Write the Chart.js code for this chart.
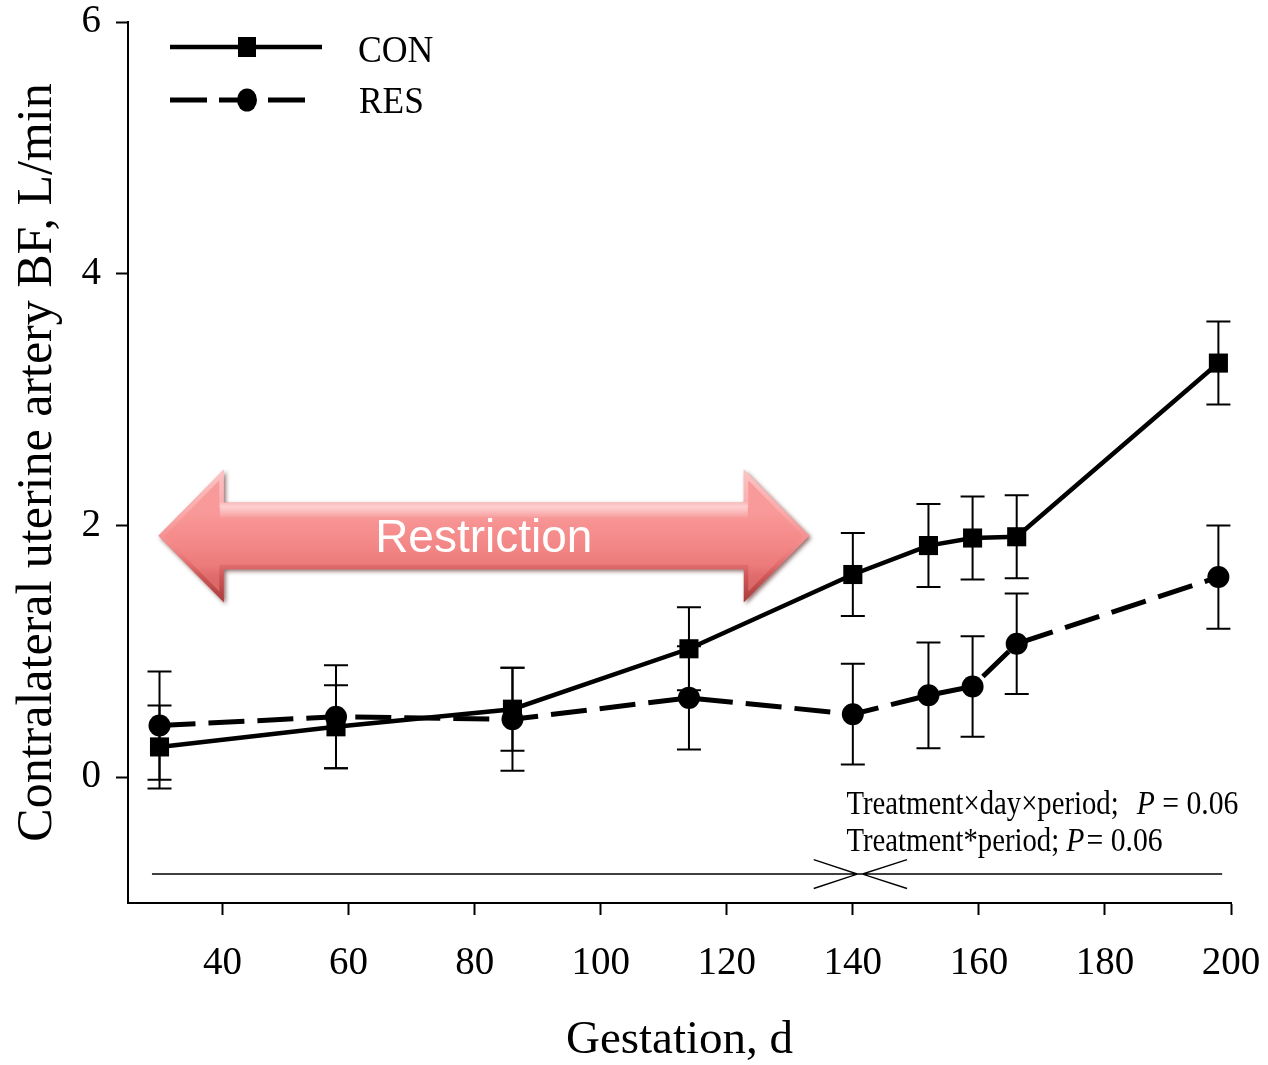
<!DOCTYPE html>
<html>
<head>
<meta charset="utf-8">
<title>Contralateral uterine artery blood flow</title>
<script src="https://cdn.jsdelivr.net/npm/chart.js@4.4.1/dist/chart.umd.min.js"></script>
<style>
  html, body { margin: 0; padding: 0; background: #fff; }
  #wrap { width: 1268px; height: 1065px; position: relative; }
</style>
</head>
<body>
<div id="wrap"><canvas id="bfChart"></canvas></div>
<script>
// gestation days sampled and blood flow (L/min) +/- SE per group
const days = [30, 58, 86, 114, 140, 152, 159, 166, 198];
const conBF = [0.24, 0.40, 0.54, 1.02, 1.61, 1.84, 1.90, 1.91, 3.29];
const conSE = [0.33, 0.33, 0.33, 0.33, 0.33, 0.33, 0.33, 0.33, 0.33];
const resBF = [0.41, 0.48, 0.46, 0.63, 0.50, 0.65, 0.72, 1.06, 1.59];
const resSE = [0.43, 0.41, 0.41, 0.41, 0.40, 0.42, 0.40, 0.40, 0.41];
const xTicks = [40, 60, 80, 100, 120, 140, 160, 180, 200];
const yTicks = [0, 2, 4, 6];

// restriction period arrow, in axis units
const restriction = { from: 29.8, to: 133.1, headLen: 10.4, y: 1.917, shaftHalf: 0.266, headHalf: 0.528 };
// period split marker along the bottom
const periodLine = { from: 28.8, to: 198.6, y: -0.77, split: 141.2, wing: 7.4, wingY: 0.115 };

const serif = "'Liberation Serif', 'Times New Roman', Times, serif";
const sans = "'Liberation Sans', Arial, Helvetica, sans-serif";

function toPoints(xs, ys) {
  return xs.map((d, i) => ({ x: d, y: ys[i] }));
}

function drawText(ctx, str, x, y, font, sx) {
  ctx.save();
  ctx.font = font;
  ctx.translate(x, y);
  ctx.scale(sx, 1);
  ctx.fillText(str, 0, 0);
  const w = ctx.measureText(str).width * sx;
  ctx.restore();
  return w;
}

const errorBars = {
  id: 'errorBars',
  beforeDatasetsDraw(chart) {
    const { ctx, scales: { x, y } } = chart;
    ctx.save();
    ctx.strokeStyle = '#000';
    ctx.lineWidth = 2;
    chart.data.datasets.forEach(ds => {
      ds.data.forEach((p, i) => {
        const px = x.getPixelForValue(p.x);
        const top = y.getPixelForValue(p.y + ds.errors[i]);
        const bot = y.getPixelForValue(p.y - ds.errors[i]);
        ctx.beginPath();
        ctx.moveTo(px, top); ctx.lineTo(px, bot);
        ctx.moveTo(px - 12, top); ctx.lineTo(px + 12, top);
        ctx.moveTo(px - 12, bot); ctx.lineTo(px + 12, bot);
        ctx.stroke();
      });
    });
    ctx.restore();
  }
};

const restrictionArrow = {
  id: 'restrictionArrow',
  afterDatasetsDraw(chart) {
    const { ctx, scales: { x, y } } = chart;
    const r = restriction;
    const xL = x.getPixelForValue(r.from), xR = x.getPixelForValue(r.to);
    const xLB = x.getPixelForValue(r.from + r.headLen), xRB = x.getPixelForValue(r.to - r.headLen);
    const yC = y.getPixelForValue(r.y);
    const yST = y.getPixelForValue(r.y + r.shaftHalf), ySB = y.getPixelForValue(r.y - r.shaftHalf);
    const yHT = y.getPixelForValue(r.y + r.headHalf), yHB = y.getPixelForValue(r.y - r.headHalf);

    const path = () => {
      ctx.beginPath();
      ctx.moveTo(xL, yC);
      ctx.lineTo(xLB, yHT); ctx.lineTo(xLB, yST);
      ctx.lineTo(xRB, yST); ctx.lineTo(xRB, yHT);
      ctx.lineTo(xR, yC);
      ctx.lineTo(xRB, yHB); ctx.lineTo(xRB, ySB);
      ctx.lineTo(xLB, ySB); ctx.lineTo(xLB, yHB);
      ctx.closePath();
    };

    ctx.save();
    const g = ctx.createLinearGradient(0, yHT, 0, yHB);
    g.addColorStop(0, '#f59a9a');
    g.addColorStop(0.3, '#f99a9a');
    g.addColorStop(0.55, '#f48888');
    g.addColorStop(0.72, '#ec7b7b');
    g.addColorStop(0.8, '#e06c6c');
    g.addColorStop(1, '#d46464');
    path();
    ctx.shadowColor = 'rgba(70, 10, 10, 0.6)';
    ctx.shadowBlur = 4;
    ctx.shadowOffsetX = 2;
    ctx.shadowOffsetY = 2;
    ctx.fillStyle = g;
    ctx.fill();
    ctx.restore();

    // bevel and highlight inside the shape
    ctx.save();
    path();
    ctx.clip();
    const hl = ctx.createLinearGradient(0, yST, 0, yST + 16);
    hl.addColorStop(0, 'rgba(255,255,255,0.15)');
    hl.addColorStop(0.25, 'rgba(255,235,235,0.65)');
    hl.addColorStop(1, 'rgba(255,255,255,0)');
    ctx.fillStyle = hl;
    ctx.fillRect(xLB - 4, yST, xRB - xLB + 8, 16);
    const bv = ctx.createLinearGradient(0, yHT, 0, yHB);
    bv.addColorStop(0, 'rgba(255,215,215,0.7)');
    bv.addColorStop(0.5, 'rgba(255,200,200,0.1)');
    bv.addColorStop(0.7, 'rgba(190,60,60,0.2)');
    bv.addColorStop(1, 'rgba(150,40,40,0.7)');
    path();
    ctx.lineWidth = 9;
    ctx.strokeStyle = bv;
    ctx.stroke();
    ctx.restore();

    ctx.save();
    ctx.fillStyle = '#fff';
    ctx.textAlign = 'center';
    ctx.textBaseline = 'alphabetic';
    ctx.font = '46px ' + sans;
    ctx.fillText('Restriction', (xL + xR) / 2, yC + 16);
    ctx.restore();
  }
};

const periodMarks = {
  id: 'periodMarks',
  afterDatasetsDraw(chart) {
    const { ctx, scales: { x, y } } = chart;
    const p = periodLine;
    const py = y.getPixelForValue(p.y);
    const up = y.getPixelForValue(p.y + p.wingY), dn = y.getPixelForValue(p.y - p.wingY);
    const sL = x.getPixelForValue(p.split) - 3, sR = x.getPixelForValue(p.split) + 2;
    ctx.save();
    ctx.strokeStyle = '#000';
    ctx.lineWidth = 1.4;
    ctx.beginPath();
    ctx.moveTo(x.getPixelForValue(p.from), py);
    ctx.lineTo(x.getPixelForValue(p.to), py);
    ctx.moveTo(x.getPixelForValue(p.split - p.wing), up);
    ctx.lineTo(sL, py);
    ctx.lineTo(x.getPixelForValue(p.split - p.wing), dn);
    ctx.moveTo(x.getPixelForValue(p.split + p.wing), up);
    ctx.lineTo(sR, py);
    ctx.lineTo(x.getPixelForValue(p.split + p.wing), dn);
    ctx.stroke();

    // statistics note
    ctx.fillStyle = '#000';
    const x0 = x.getPixelForValue(139);
    const b1 = y.getPixelForValue(-0.294), b2 = y.getPixelForValue(-0.59);
    const f = '33px ' + serif, fi = 'italic 33px ' + serif;
    let cx = x0 + drawText(ctx, 'Treatment\u00d7day\u00d7period;', x0, b1, f, 0.87) + 18;
    cx += drawText(ctx, 'P', cx, b1, fi, 0.9);
    drawText(ctx, ' = 0.06', cx, b1, f, 0.9);
    cx = x0 + drawText(ctx, 'Treatment*period; ', x0, b2, f, 0.87);
    cx += drawText(ctx, 'P', cx, b2, fi, 0.9);
    drawText(ctx, '= 0.06', cx + 2, b2, f, 0.9);
    ctx.restore();
  }
};

const lineLegend = {
  id: 'lineLegend',
  afterDraw(chart) {
    const { ctx, chartArea } = chart;
    const x0 = chartArea.left + 42;
    ctx.save();
    ctx.strokeStyle = '#000';
    ctx.fillStyle = '#000';
    ctx.lineWidth = 4.5;
    // CON
    ctx.beginPath();
    ctx.moveTo(x0, 47); ctx.lineTo(x0 + 152, 47);
    ctx.stroke();
    ctx.fillRect(x0 + 77 - 9, 47 - 10, 18, 20);
    // RES
    ctx.lineWidth = 5;
    ctx.setLineDash([37, 12]);
    ctx.beginPath();
    ctx.moveTo(x0, 100); ctx.lineTo(x0 + 136, 100);
    ctx.stroke();
    ctx.setLineDash([]);
    ctx.beginPath();
    ctx.ellipse(x0 + 77, 100, 10, 11.5, 0, 0, Math.PI * 2);
    ctx.fill();
    drawText(ctx, 'CON', chartArea.left + 230, 62, '38px ' + serif, 0.94);
    drawText(ctx, 'RES', chartArea.left + 231, 113, '38px ' + serif, 0.93);
    ctx.restore();
  }
};

new Chart(document.getElementById('bfChart'), {
  type: 'line',
  data: {
    datasets: [
      {
        label: 'CON',
        data: toPoints(days, conBF),
        errors: conSE,
        borderColor: '#000',
        borderWidth: 4.5,
        pointStyle: 'rect',
        pointRadius: 13.5,
        pointBackgroundColor: '#000',
        pointBorderWidth: 0,
        tension: 0
      },
      {
        label: 'RES',
        data: toPoints(days, resBF),
        errors: resSE,
        borderColor: '#000',
        borderWidth: 5,
        borderDash: [36, 13],
        pointStyle: 'circle',
        pointRadius: 11,
        pointBackgroundColor: '#000',
        pointBorderWidth: 0,
        tension: 0
      }
    ]
  },
  options: {
    responsive: true,
    maintainAspectRatio: false,
    animation: false,
    events: [],
    layout: { padding: { top: 22, right: 37, left: 0, bottom: 0 } },
    plugins: {
      legend: { display: false },
      tooltip: { enabled: false }
    },
    scales: {
      x: {
        type: 'linear',
        min: 25,
        max: 200,
        afterBuildTicks: s => { s.ticks = xTicks.map(v => ({ value: v })); },
        afterFit: s => { s.height = 162; s.paddingLeft = 0; s.paddingRight = 0; },
        border: { display: true, color: '#000', width: 2 },
        grid: { drawOnChartArea: false, drawTicks: true, tickLength: 12, tickWidth: 2, tickColor: '#000' },
        ticks: { color: '#000', font: { family: serif, size: 39, lineHeight: 1 }, padding: 29, maxRotation: 0, autoSkip: false },
        title: { display: true, text: 'Gestation, d', color: '#000', font: { family: serif, size: 47, lineHeight: 1 }, padding: { top: 0, bottom: 1 } }
      },
      y: {
        type: 'linear',
        min: -1,
        max: 6,
        afterBuildTicks: s => { s.ticks = yTicks.map(v => ({ value: v })); },
        afterFit: s => { s.width = 128; s.paddingTop = 0; s.paddingBottom = 0; },
        border: { display: true, color: '#000', width: 2 },
        grid: { drawOnChartArea: false, drawTicks: true, tickLength: 12, tickWidth: 2, tickColor: '#000' },
        ticks: { color: '#000', font: { family: serif, size: 39, lineHeight: 1 }, padding: 15 },
        title: { display: true, text: 'Contralateral uterine artery BF, L/min', color: '#000', font: { family: serif, size: 50, lineHeight: 1 }, padding: { top: 13, bottom: 0 } }
      }
    }
  },
  plugins: [errorBars, restrictionArrow, periodMarks, lineLegend]
});
</script>
</body>
</html>
